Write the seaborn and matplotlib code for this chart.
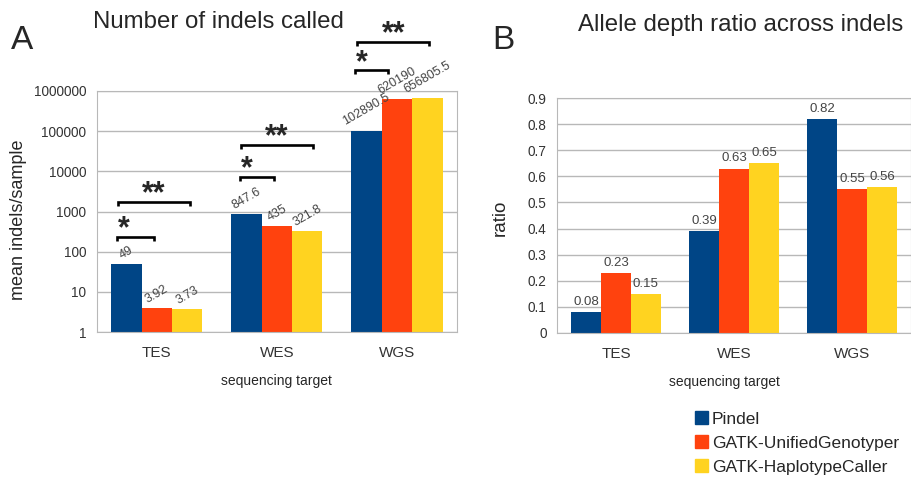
import pandas as pd
import matplotlib
matplotlib.use("Agg")
import matplotlib.pyplot as plt
import seaborn as sns
from matplotlib.patches import Patch

# 데이터
targets = ["TES", "WES", "WGS"]
callers = ["Pindel", "GATK-UnifiedGenotyper", "GATK-HaplotypeCaller"]
colors = ["#004586", "#ff420e", "#ffd320"]

indels_pindel = [49, 847.6, 102890.5]
indels_unified = [3.92, 435, 620190]
indels_haplo = [3.73, 321.8, 656805.5]

ratio_pindel = [0.08, 0.39, 0.82]
ratio_unified = [0.23, 0.63, 0.55]
ratio_haplo = [0.15, 0.65, 0.56]

# 유의성 표시 (x0, x1, y, 기호)
brackets = [(-0.325, 0.275, 1722, "**"), (-0.33, -0.02, 232, "*"),
            (0.70, 1.30, 45200, "**"), (0.69, 0.98, 7220, "*"),
            (1.67, 2.27, 1.66e7, "**"), (1.65, 1.93, 3.3e6, "*")]

df_indel = pd.DataFrame({
    "target": targets * 3,
    "caller": [c for c in callers for _ in targets],
    "value": indels_pindel + indels_unified + indels_haplo,
})
df_ratio = pd.DataFrame({
    "target": targets * 3,
    "caller": [c for c in callers for _ in targets],
    "value": ratio_pindel + ratio_unified + ratio_haplo,
})

sns.set_style("white")
plt.rcParams["font.family"] = ["Liberation Sans", "DejaVu Sans"]

fig = plt.figure(figsize=(9.12, 4.83), dpi=100)
ax1 = fig.add_axes([0.106, 0.3126, 0.395, 0.499])
ax2 = fig.add_axes([0.6107, 0.3106, 0.3883, 0.4864])

grid_c = "#b8b8b8"
tick_c = "#333333"


def style_axes(ax):
    ax.grid(axis="y", color=grid_c, lw=1)
    ax.set_axisbelow(True)
    for s in ax.spines.values():
        s.set_color(grid_c)
    ax.set_xticks([-0.5, 0.5, 1.5, 2.5], minor=True)
    ax.tick_params(axis="x", which="major", length=0, labelsize=11, colors=tick_c, pad=10)
    ax.tick_params(axis="x", which="minor", length=5, color=grid_c, direction="out")
    ax.tick_params(axis="y", which="major", length=4, color=grid_c, direction="out",
                   labelsize=9.8, colors=tick_c)
    ax.tick_params(axis="y", which="minor", length=0)
    ax.set_xlim(-0.5, 2.5)


# A 패널 (로그 스케일)
ax1.set_yscale("log")
sns.barplot(data=df_indel, x="target", y="value", hue="caller", palette=colors,
            width=0.76, saturation=1, linewidth=0, ax=ax1, legend=False)
ax1.set_ylim(1, 1e6)
ax1.set_yticks([1, 10, 100, 1000, 10000, 100000, 1000000])
ax1.set_yticklabels(["1", "10", "100", "1000", "10000", "100000", "1000000"])
style_axes(ax1)
ax1.set_xlabel("sequencing target", fontsize=10, labelpad=10)
ax1.set_ylabel("")

for cont in ax1.containers:
    for bar in cont:
        h = bar.get_height()
        txt = ("%.2f" % h).rstrip("0").rstrip(".")
        ax1.annotate(txt, (bar.get_x() + bar.get_width() / 2, h), xytext=(0, 2),
                     textcoords="offset points", ha="center", va="bottom",
                     rotation=30, fontsize=9, color="#444444")

for x0, x1, y, lab in brackets:
    ax1.plot([x0, x0, x1, x1], [y * 0.8, y, y, y * 0.8], color="black", lw=1.9,
             clip_on=False, solid_capstyle="butt", solid_joinstyle="miter")
    xs = (x0 + x1) / 2 if lab == "**" else x0 + 0.06
    ax1.annotate(lab, (xs, y), xytext=(0, -0.5), textcoords="offset points",
                 ha="center", va="baseline", fontsize=22, fontweight="bold",
                 annotation_clip=False)

# B 패널
sns.barplot(data=df_ratio, x="target", y="value", hue="caller", palette=colors,
            width=0.76, saturation=1, linewidth=0, ax=ax2, legend=False)
ax2.set_ylim(0, 0.9)
ax2.set_yticks([i / 10 for i in range(10)])
ax2.set_yticklabels(["0"] + ["%.1f" % (i / 10) for i in range(1, 10)])
style_axes(ax2)
ax2.set_xlabel("sequencing target", fontsize=10, labelpad=10)
ax2.xaxis.label.set_x(0.473)
ax2.set_ylabel("")
for cont in ax2.containers:
    ax2.bar_label(cont, fmt="%.2f", padding=3, fontsize=9.5, color="#444444")

# 제목, 축 라벨
fig.text(0.012, 0.917, "A", fontsize=24, va="center")
fig.text(0.24, 0.954, "Number of indels called", fontsize=17.3, ha="center", va="center")
fig.text(0.54, 0.917, "B", fontsize=24, va="center")
fig.text(0.812, 0.948, "Allele depth ratio across indels", fontsize=17.3, ha="center", va="center")
fig.text(0.02, 0.545, "mean indels/sample", fontsize=13, rotation=90, ha="center", va="center")
fig.text(0.548, 0.549, "ratio", fontsize=13.5, rotation=90, ha="center", va="center")

handles = [Patch(color=c, label=l) for c, l in zip(colors, callers)]
fig.legend(handles=handles, loc="upper left", bbox_to_anchor=(0.754, 0.163), frameon=False,
           fontsize=12.5, handlelength=0.75, handleheight=0.75, handletextpad=0.25,
           labelspacing=0.5, borderaxespad=0)

plt.savefig("out.png", dpi=100)
